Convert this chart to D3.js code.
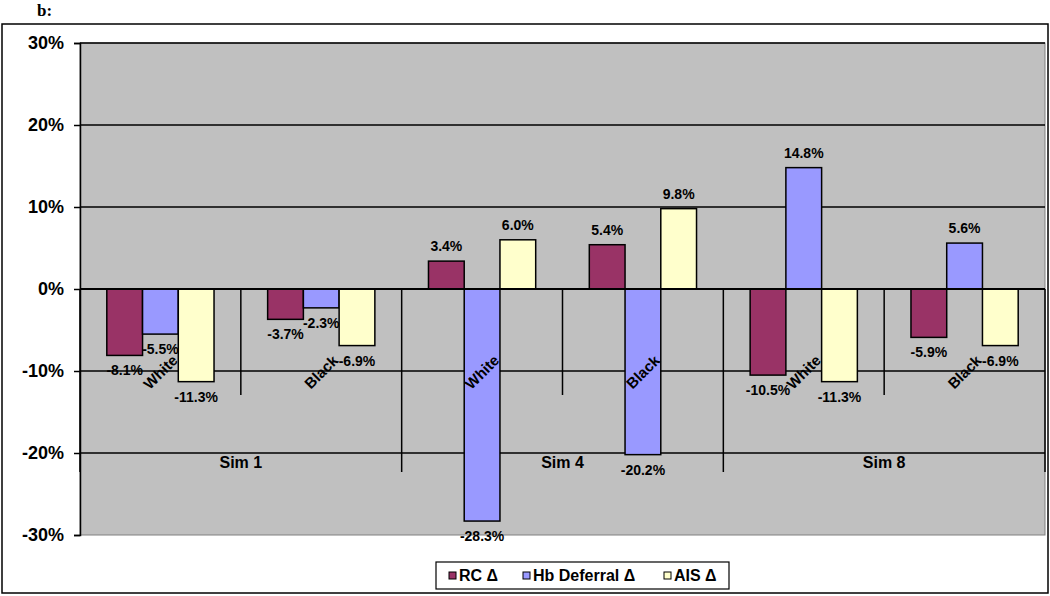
<!DOCTYPE html>
<html><head><meta charset="utf-8">
<script src="https://cdn.jsdelivr.net/npm/d3@7"></script>
<style>body{margin:0;background:#fff;}svg{display:block;font-family:"Liberation Sans",Arial,sans-serif;}</style>
</head><body>
<svg id="c" width="1050" height="596"></svg>
<script>
const sims = ["Sim 1", "Sim 4", "Sim 8"];
const races = ["White", "Black"];
const seriesNames = ["RC Δ", "Hb Deferral Δ", "AIS Δ"];
const seriesColors = ["#993366", "#9999ff", "#ffffcc"];
const rcValues = [-8.1, -3.7, 3.4, 5.4, -10.5, -5.9];
const hbValues = [-5.5, -2.3, -28.3, -20.2, 14.8, 5.6];
const aisValues = [-11.3, -6.9, 6.0, 9.8, -11.3, -6.9];
const yTicks = [30, 20, 10, 0, -10, -20, -30];

const seriesValues = [rcValues, hbValues, aisValues];
const cats = [];
sims.forEach(s => races.forEach(r => cats.push(s + "|" + r)));

const svg = d3.select("#c");
const L = 80, R = 1045, T = 43, B = 535;

// outer frame
svg.append("rect").attr("x", 2).attr("y", 24).attr("width", 1046).attr("height", 569)
  .attr("fill", "none").attr("stroke", "#000").attr("stroke-width", 1.5);
svg.append("text").attr("x", 37).attr("y", 16).attr("font-family", "Liberation Serif, Times New Roman, serif")
  .attr("font-weight", "bold").attr("font-size", 17).text("b:");

const x = d3.scaleBand().domain(cats).range([L, R]).padding(0);
const xs = d3.scaleBand().domain(seriesNames).range([0, x.bandwidth()]).paddingInner(0).paddingOuter(0.75);
const y = d3.scaleLinear().domain([-30, 30]).range([B, T]);

// plot area
svg.append("rect").attr("x", L).attr("y", T).attr("width", R - L).attr("height", B - T)
  .attr("fill", "#c0c0c0").attr("stroke", "#808080").attr("stroke-width", 1);

// gridlines
svg.append("g").selectAll("line").data(yTicks.filter(t => t !== 0 && t !== -30)).join("line")
  .attr("x1", L).attr("x2", R).attr("y1", d => y(d)).attr("y2", d => y(d))
  .attr("stroke", "#000").attr("stroke-width", 1.5);

// y axis
const yAxis = d3.axisLeft(y).tickValues(yTicks).tickFormat(d => d + "%").tickSize(6).tickPadding(10);
const ga = svg.append("g").attr("transform", `translate(${L},0)`).call(yAxis);
ga.select(".domain").attr("stroke", "#000").attr("stroke-width", 1.5);
ga.selectAll(".tick line").attr("stroke", "#000").attr("stroke-width", 1.5);
ga.selectAll("text").attr("font-size", 18).attr("font-weight", "bold").attr("fill", "#000")
  .attr("font-family", "Liberation Sans, Arial, sans-serif");

// category dividers
const bounds = d3.range(cats.length + 1);
svg.append("g").selectAll("line").data(bounds).join("line")
  .attr("x1", i => i < cats.length ? x(cats[i]) : R)
  .attr("x2", i => i < cats.length ? x(cats[i]) : R)
  .attr("y1", y(0))
  .attr("y2", i => i % 2 === 0 ? 472 : 395)
  .attr("stroke", "#000").attr("stroke-width", 1.5);

// bars
const barData = [];
cats.forEach((c, ci) => seriesNames.forEach((s, si) => barData.push({c, s, si, v: seriesValues[si][ci]})));
svg.append("g").selectAll("rect").data(barData).join("rect")
  .attr("x", d => x(d.c) + xs(d.s))
  .attr("width", xs.bandwidth())
  .attr("y", d => y(Math.max(0, d.v)))
  .attr("height", d => Math.abs(y(d.v) - y(0)))
  .attr("fill", d => seriesColors[d.si])
  .attr("stroke", "#000").attr("stroke-width", 1.5);

// zero axis line
svg.append("line").attr("x1", L).attr("x2", R).attr("y1", y(0)).attr("y2", y(0))
  .attr("stroke", "#000").attr("stroke-width", 2);

// data labels
svg.append("g").selectAll("text").data(barData).join("text")
  .attr("x", d => x(d.c) + xs(d.s) + xs.bandwidth() / 2)
  .attr("y", d => d.v >= 0 ? y(d.v) - 10 : y(d.v) + 20)
  .attr("text-anchor", "middle").attr("font-size", 14).attr("font-weight", "bold")
  .text(d => d.v.toFixed(1) + "%");

// race labels
svg.append("g").selectAll("text").data(cats).join("text")
  .attr("transform", c => `translate(${x(c) + x.bandwidth() / 2},${372}) rotate(-45)`)
  .attr("text-anchor", "middle").attr("dy", "0.35em")
  .attr("font-size", 15).attr("font-weight", "bold")
  .text(c => c.split("|")[1]);

// sim labels
svg.append("g").selectAll("text").data(sims).join("text")
  .attr("x", s => (x(s + "|White") + x(s + "|Black") + x.bandwidth()) / 2)
  .attr("y", 468).attr("text-anchor", "middle")
  .attr("font-size", 16).attr("font-weight", "bold").text(s => s);

// legend
const lg = svg.append("g");
lg.append("rect").attr("x", 436).attr("y", 562).attr("width", 293).attr("height", 27)
  .attr("fill", "#fff").attr("stroke", "#000").attr("stroke-width", 1.2);
const legX = [449, 523, 664];
seriesNames.forEach((s, i) => {
  lg.append("rect").attr("x", legX[i]).attr("y", 572).attr("width", 7).attr("height", 7)
    .attr("fill", seriesColors[i]).attr("stroke", "#000").attr("stroke-width", 1);
  lg.append("text").attr("x", legX[i] + 10).attr("y", 581).attr("font-size", 16)
    .attr("font-weight", "bold").text(s);
});
</script>
</body></html>
